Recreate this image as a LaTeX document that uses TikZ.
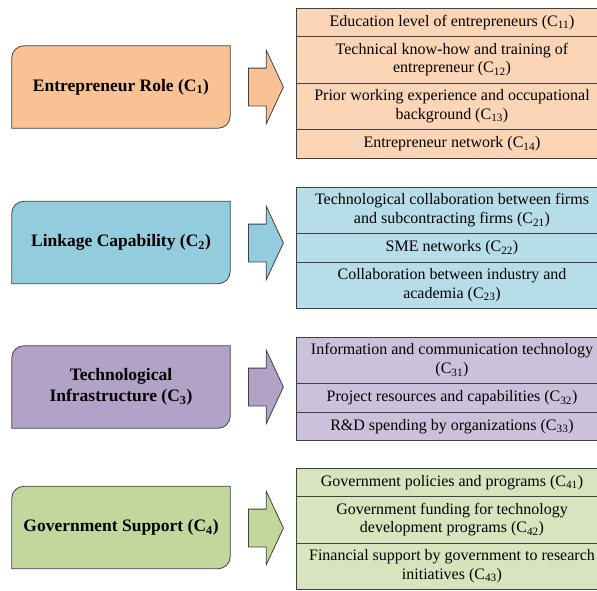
\documentclass[tikz,border=0pt]{standalone}
\usepackage{fontspec}
\setmainfont{Liberation Serif}
\usetikzlibrary{shapes.arrows,positioning,backgrounds}

\definecolor{orgdark}{HTML}{F9C295}
\definecolor{orglight}{HTML}{FBD5B5}
\definecolor{bludark}{HTML}{93CDDD}
\definecolor{blulight}{HTML}{B7DEE8}
\definecolor{purdark}{HTML}{B3A2C7}
\definecolor{purlight}{HTML}{CCC1DA}
\definecolor{grndark}{HTML}{C3D69B}
\definecolor{grnlight}{HTML}{D7E4BD}
\definecolor{edge}{HTML}{404040}

\begin{document}
\begin{tikzpicture}[
    x=1pt, y=-1pt,
    node distance=0pt,
    group/.style={rectangle, minimum width=218pt, minimum height=82pt, align=center, font=\fontsize{17.5}{21}\selectfont\bfseries},
    outline/.style={draw=edge, line width=0.8pt},
    blockarrow/.style={single arrow, draw=edge, line width=0.8pt, inner xsep=0pt, inner ysep=18.5pt, minimum height=35pt,
        single arrow head extend=18pt, single arrow tip angle=130, anchor=tail},
    item/.style={rectangle, draw=edge, line width=0.8pt, outer sep=0pt, inner sep=0pt, minimum width=312pt,
        minimum height=28.5pt, align=center, font=\fontsize{16}{18.5}\selectfont},
    tall/.style={minimum height=46.5pt}
]
\useasboundingbox (0,0) rectangle (597,590);

% criteria groups on the left
\node[group] (role) at (121,87) {Entrepreneur Role (C\textsubscript{1})};
\node[group] (link) at (121,242.5) {Linkage Capability (C\textsubscript{2})};
\node[group] (infra) at (121,387) {Technological\\Infrastructure (C\textsubscript{3})};
\node[group] (gov) at (121,527.5) {Government Support (C\textsubscript{4})};

\begin{scope}[on background layer]
\foreach \n/\c in {role/orgdark, link/bludark, infra/purdark, gov/grndark}
    \draw[outline, fill=\c] (\n.west) [rounded corners=12pt] -- (\n.north west) -- (\n.north) [sharp corners]
        -- (\n.north east) -- (\n.east) [rounded corners=12pt] -- (\n.south east) -- (\n.south) [sharp corners]
        -- (\n.south west) -- cycle;
\end{scope}

% block arrows
\node[blockarrow, fill=orgdark] (a1) at (248,87) {};
\node[blockarrow, fill=bludark] (a2) at (248,243) {};
\node[blockarrow, fill=purdark] (a3) at (248,387) {};
\node[blockarrow, fill=grndark] (a4) at (248,528) {};

% sub-criteria C1
\node[item, fill=orglight, anchor=north west] (c11) at (296,8) {Education level of entrepreneurs (C\textsubscript{11})};
\node[item, tall, fill=orglight, below=of c11] (c12) {Technical know-how and training of\\entrepreneur (C\textsubscript{12})};
\node[item, tall, fill=orglight, below=of c12] (c13) {Prior working experience and occupational\\background (C\textsubscript{13})};
\node[item, fill=orglight, below=of c13] (c14) {Entrepreneur network (C\textsubscript{14})};

% sub-criteria C2
\node[item, tall, fill=blulight, anchor=north west] (c21) at (296,187) {Technological collaboration between firms\\and subcontracting firms (C\textsubscript{21})};
\node[item, fill=blulight, below=of c21] (c22) {SME networks (C\textsubscript{22})};
\node[item, tall, fill=blulight, below=of c22] (c23) {Collaboration between industry and\\academia (C\textsubscript{23})};

% sub-criteria C3
\node[item, tall, fill=purlight, anchor=north west] (c31) at (296,337) {Information and communication technology\\(C\textsubscript{31})};
\node[item, fill=purlight, below=of c31] (c32) {Project resources and capabilities (C\textsubscript{32})};
\node[item, fill=purlight, below=of c32] (c33) {R\&D spending by organizations (C\textsubscript{33})};

% sub-criteria C4
\node[item, fill=grnlight, anchor=north west] (c41) at (296,468) {Government policies and programs (C\textsubscript{41})};
\node[item, tall, fill=grnlight, below=of c41] (c42) {Government funding for technology\\development programs (C\textsubscript{42})};
\node[item, tall, fill=grnlight, below=of c42] (c43) {Financial support by government to research\\initiatives (C\textsubscript{43})};
\end{tikzpicture}
\end{document}
